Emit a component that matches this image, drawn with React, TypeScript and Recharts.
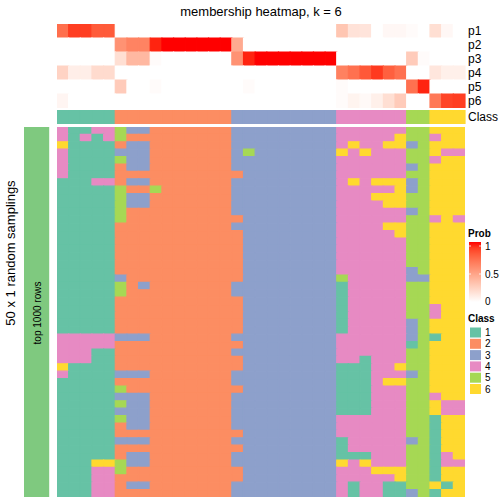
import React from 'react'
import { BarChart, Bar, Cell, XAxis, YAxis } from 'recharts'

const FONT = '"Liberation Sans", Arial, Helvetica, sans-serif'

const CLASS_COLORS: Record<string, string> = {
  '1': '#66c2a5',
  '2': '#fc8d62',
  '3': '#8da0cb',
  '4': '#e78ac3',
  '5': '#a6d854',
  '6': '#ffd92f',
}
const CLASS_LABELS = ['1', '2', '3', '4', '5', '6']
const SAMPLING_COLOR = '#7fc97f'

// membership probabilities per column (35 samples)
const PROB_LABELS = ['p1', 'p2', 'p3', 'p4', 'p5', 'p6']
const p1 = [0.72, 0.9, 0.9, 0.8, 0.8, 0, 0, 0, 0, 0, 0, 0, 0, 0, 0, 0, 0, 0, 0, 0, 0, 0, 0, 0, 0.3, 0.15, 0.14, 0, 0.04, 0.04, 0.02, 0, 0.17, 0.04, 0]
const p2 = [0, 0, 0, 0, 0, 0.56, 0.63, 0.63, 0.96, 1, 1, 1, 1, 1, 1, 0.44, 0, 0, 0, 0, 0, 0, 0, 0, 0, 0, 0, 0, 0, 0, 0, 0, 0, 0, 0]
const p3 = [0, 0, 0, 0, 0, 0.17, 0.37, 0.37, 0.02, 0, 0, 0, 0, 0, 0, 0.56, 0.96, 1, 1, 1, 1, 1, 1, 1, 0, 0, 0, 0, 0, 0, 0.27, 0.02, 0, 0, 0]
const p4 = [0.23, 0.09, 0.09, 0.19, 0.19, 0, 0, 0, 0, 0, 0, 0, 0, 0, 0, 0, 0, 0, 0, 0, 0, 0, 0, 0, 0.64, 0.71, 0.81, 0.91, 0.78, 0.71, 0, 0, 0.13, 0.08, 0.08]
const p5 = [0, 0, 0, 0, 0, 0.27, 0, 0, 0.02, 0, 0, 0, 0, 0, 0, 0, 0.02, 0, 0, 0, 0, 0, 0, 0, 0.02, 0, 0, 0, 0, 0, 0.71, 0.96, 0, 0, 0]
const p6 = [0.05, 0, 0, 0, 0, 0, 0, 0, 0, 0, 0, 0, 0, 0, 0, 0, 0, 0, 0, 0, 0, 0, 0, 0, 0.02, 0.06, 0.03, 0.08, 0.17, 0.27, 0, 0, 0.68, 0.88, 0.9]
const PROBS = [p1, p2, p3, p4, p5, p6]

const COLUMN_CLASS = '11111 2222222222 333333333 444444 55 666'.replace(/ /g, '')

// 50 random samplings, class per column
const SAMPLINGS = [
  '41144 5332222222 333333333 444444 55 666',
  '41414 5222222222 333333333 444446 55 466',
  '61111 2332222222 333333333 464466 35 666',
  '41111 3332222222 353333333 646444 55 644',
  '41111 5332222222 333333333 444444 55 466',
  '41111 2332222222 333333333 444444 35 666',
  '41111 2222222222 233333333 444444 55 666',
  '11144 2332222222 333333333 464666 35 666',
  '11111 5225222222 333333333 444446 35 666',
  '11111 5332222222 333333333 444666 55 666',
  '11111 5332222222 333333333 444466 55 666',
  '11111 5222222222 333333333 444444 35 666',
  '11111 5222222222 233333333 444444 55 464',
  '11111 2222222222 333333333 444466 55 666',
  '11111 2222222222 233333333 444446 55 666',
  '11111 2222222222 233333333 444444 55 666',
  '11111 2222222222 233333333 444444 55 666',
  '11111 2222222222 233333333 444444 55 666',
  '11111 2222222222 233333333 444444 55 666',
  '11111 2222222222 233333333 444444 35 666',
  '11111 3222222222 233333333 544444 33 666',
  '11111 5232222222 333333333 144444 55 666',
  '11111 5222222222 333333333 144444 55 666',
  '11111 2222222222 233333333 144444 55 666',
  '11111 2222222222 233333333 144444 55 466',
  '11111 2222222222 233333333 144444 55 466',
  '11111 2222222222 233333333 144444 35 666',
  '11111 2222222222 233333333 144444 35 666',
  '44444 3332222222 333333333 444444 35 166',
  '44444 2222222222 233333333 444444 15 666',
  '44411 2222222222 333333333 444444 55 666',
  '44411 2222222222 233333333 441444 55 666',
  '61111 2222222222 233333333 111446 55 666',
  '41111 3332222222 333333333 111444 35 666',
  '11111 2222222222 333333333 111466 55 666',
  '11111 5222222222 233333333 111444 55 666',
  '11111 3332222222 333333333 111444 55 466',
  '11111 5332222222 333333333 111444 55 644',
  '11111 3332222222 333333333 111444 55 644',
  '11111 5332222222 333333333 444444 55 166',
  '11111 2332222222 333333333 444444 55 166',
  '11111 2222222222 233333333 444444 55 166',
  '11111 3332222222 333333333 144444 35 166',
  '11111 2222222222 233333333 144444 55 166',
  '11111 2332222222 333333333 111444 55 146',
  '11166 5332222222 333333333 646444 55 144',
  '11144 5222222222 233333333 444666 55 166',
  '11144 2222222222 233333333 444446 55 166',
  '11144 2332222222 333333333 414411 55 616',
  '11144 2222222222 333333333 414411 35 166',
].map((s) => s.replace(/ /g, ''))

// white -> red in LAB space
function toLab(rgb: number[]) {
  const lin = rgb.map((c) => {
    const v = c / 255
    return v <= 0.04045 ? v / 12.92 : Math.pow((v + 0.055) / 1.055, 2.4)
  })
  const X = (0.4124 * lin[0] + 0.3576 * lin[1] + 0.1805 * lin[2]) / 0.95047
  const Y = 0.2126 * lin[0] + 0.7152 * lin[1] + 0.0722 * lin[2]
  const Z = (0.0193 * lin[0] + 0.1192 * lin[1] + 0.9505 * lin[2]) / 1.08883
  const f = (t: number) => (t > 0.008856 ? Math.cbrt(t) : 7.787 * t + 16 / 116)
  return [116 * f(Y) - 16, 500 * (f(X) - f(Y)), 200 * (f(Y) - f(Z))]
}
function fromLab(lab: number[]) {
  const fy = (lab[0] + 16) / 116
  const fx = fy + lab[1] / 500
  const fz = fy - lab[2] / 200
  const inv = (t: number) => (t * t * t > 0.008856 ? t * t * t : (t - 16 / 116) / 7.787)
  const X = inv(fx) * 0.95047
  const Y = inv(fy)
  const Z = inv(fz) * 1.08883
  const lin = [
    3.2406 * X - 1.5372 * Y - 0.4986 * Z,
    -0.9689 * X + 1.8758 * Y + 0.0415 * Z,
    0.0557 * X - 0.204 * Y + 1.057 * Z,
  ]
  const out = lin.map((c) => {
    const v = c <= 0.0031308 ? 12.92 * c : 1.055 * Math.pow(c, 1 / 2.4) - 0.055
    return Math.max(0, Math.min(255, Math.round(v * 255)))
  })
  return `rgb(${out[0]},${out[1]},${out[2]})`
}
const LAB_WHITE = toLab([255, 255, 255])
const LAB_RED = toLab([255, 0, 0])
function probColor(p: number) {
  return fromLab(LAB_WHITE.map((w, i) => w + (LAB_RED[i] - w) * p))
}

const NCOL = COLUMN_CLASS.length
const HM_LEFT = 57
const HM_WIDTH = 408
const BAR_W = HM_WIDTH / NCOL - 0.005
const SEAM = 1.2 // stroke in the cell colour hides antialiasing seams

const probKeys = PROB_LABELS.map((_, i) => `p${i}`)
const probData = COLUMN_CLASS.split('').map((_, c) => {
  const d: any = { col: c }
  probKeys.forEach((k) => (d[k] = 1))
  return d
})
const classData = COLUMN_CLASS.split('').map((_, c) => ({ col: c, v: 1 }))
const rowKeys = SAMPLINGS.map((_, r) => `r${r}`)
const mainData = COLUMN_CLASS.split('').map((_, c) => {
  const d: any = { col: c }
  rowKeys.forEach((k) => (d[k] = 1))
  return d
})

const tickStyle = { fontSize: 12, fill: '#000', fontFamily: FONT }
const noMargin = { top: 0, right: 0, bottom: 0, left: 0 }

export default function App() {
  const gradStops = Array.from({ length: 11 }, (_, i) => i / 10)
  return (
    <div style={{ position: 'absolute', left: 0, top: 0, width: 504, height: 504, background: '#fff' }}>
      {/* probability rows */}
      <div style={{ position: 'absolute', left: HM_LEFT, top: 24 }}>
        <BarChart width={HM_WIDTH + 40} height={84} data={probData} margin={noMargin} barCategoryGap={0} barGap={0}>
          <XAxis dataKey="col" hide />
          <YAxis
            type="number"
            domain={[0, 6]}
            allowDataOverflow
            reversed
            orientation="right"
            width={40}
            ticks={[0.5, 1.5, 2.5, 3.5, 4.5, 5.5]}
            interval={0}
            tickFormatter={(v) => PROB_LABELS[Math.floor(Number(v))]}
            axisLine={false}
            tickLine={false}
            tickSize={0}
            tickMargin={3}
            tick={tickStyle}
          />
          {probKeys.map((k, r) => (
            <Bar key={k} dataKey={k} stackId="p" barSize={BAR_W} isAnimationActive={false}>
              {probData.map((_, c) => {
                const col = probColor(PROBS[r][c])
                return <Cell key={c} fill={col} stroke={col} strokeWidth={SEAM} />
              })}
            </Bar>
          ))}
        </BarChart>
      </div>

      {/* class row */}
      <div style={{ position: 'absolute', left: HM_LEFT, top: 110 }}>
        <BarChart width={HM_WIDTH + 40} height={14} data={classData} margin={noMargin} barCategoryGap={0} barGap={0}>
          <XAxis dataKey="col" hide />
          <YAxis
            type="number"
            domain={[0, 1]}
            allowDataOverflow
            orientation="right"
            width={40}
            ticks={[0.5]}
            interval={0}
            tickFormatter={() => 'Class'}
            axisLine={false}
            tickLine={false}
            tickSize={0}
            tickMargin={3}
            tick={tickStyle}
          />
          <Bar dataKey="v" barSize={BAR_W} isAnimationActive={false}>
            {classData.map((_, c) => {
              const col = CLASS_COLORS[COLUMN_CLASS[c]]
              return <Cell key={c} fill={col} stroke={col} strokeWidth={SEAM} />
            })}
          </Bar>
        </BarChart>
      </div>

      {/* sampling heatmap */}
      <div style={{ position: 'absolute', left: HM_LEFT, top: 127 }}>
        <BarChart width={HM_WIDTH} height={370} data={mainData} margin={noMargin} barCategoryGap={0} barGap={0}>
          <XAxis dataKey="col" hide />
          <YAxis type="number" domain={[0, SAMPLINGS.length]} allowDataOverflow reversed hide />
          {rowKeys.map((k, r) => (
            <Bar key={k} dataKey={k} stackId="s" barSize={BAR_W} isAnimationActive={false}>
              {mainData.map((_, c) => {
                const col = CLASS_COLORS[SAMPLINGS[r][c]]
                return <Cell key={c} fill={col} stroke={col} strokeWidth={SEAM} />
              })}
            </Bar>
          ))}
        </BarChart>
      </div>

      {/* left sampling annotation */}
      <div style={{ position: 'absolute', left: 23, top: 127 }}>
        <BarChart width={28} height={370} data={[{ k: 'top 1000 rows', v: 1 }]} margin={noMargin} barCategoryGap={0}>
          <XAxis dataKey="k" hide />
          <YAxis type="number" domain={[0, 1]} allowDataOverflow hide />
          <Bar dataKey="v" fill={SAMPLING_COLOR} barSize={28} isAnimationActive={false} />
        </BarChart>
      </div>

      <svg width={504} height={504} style={{ position: 'absolute', left: 0, top: 0, pointerEvents: 'none' }} fontFamily={FONT}>
        <defs>
          <linearGradient id="probGrad" x1="0" y1="1" x2="0" y2="0">
            {gradStops.map((s) => (
              <stop key={s} offset={s} stopColor={probColor(s)} />
            ))}
          </linearGradient>
        </defs>
        <text x={261} y={16} fontSize={13} textAnchor="middle">
          membership heatmap, k = 6
        </text>
        <text x={0} y={0} fontSize={13} textAnchor="middle" transform="translate(15,253) rotate(-90)">
          50 x 1 random samplings
        </text>
        <text x={0} y={0} fontSize={10} textAnchor="middle" transform="translate(41,313) rotate(-90)">
          top 1000 rows
        </text>

        <text x={468} y={237} fontSize={10} fontWeight="bold">
          Prob
        </text>
        <rect x={469} y={242} width={12} height={60} fill="url(#probGrad)" />
        {[
          { y: 246, t: '1' },
          { y: 274, t: '0.5' },
          { y: 301, t: '0' },
        ].map((d) => (
          <g key={d.t}>
            <line x1={469} x2={471} y1={d.y} y2={d.y} stroke="#fff" strokeWidth={0.8} />
            <line x1={479} x2={481} y1={d.y} y2={d.y} stroke="#fff" strokeWidth={0.8} />
            <text x={485} y={d.y + 3.5} fontSize={10}>
              {d.t}
            </text>
          </g>
        ))}

        <text x={468} y={322} fontSize={10} fontWeight="bold">
          Class
        </text>
        {CLASS_LABELS.map((c, i) => (
          <g key={c}>
            <rect x={470} y={327.5 + i * 11.3} width={11} height={10} fill={CLASS_COLORS[c]} />
            <text x={485} y={336 + i * 11.3} fontSize={10}>
              {c}
            </text>
          </g>
        ))}
      </svg>
    </div>
  )
}
